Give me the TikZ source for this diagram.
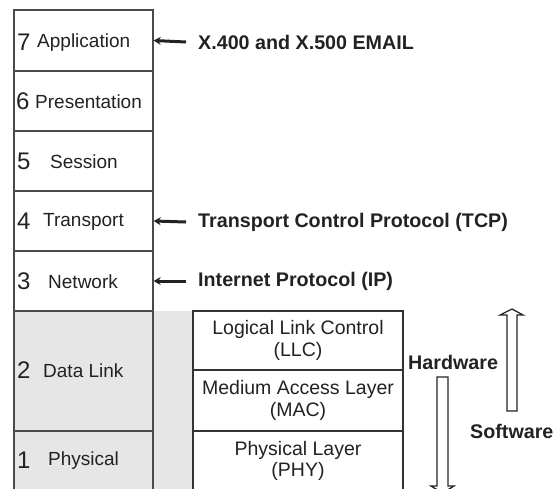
\documentclass[tikz,border=0pt]{standalone}
\usepackage{fontspec}
\setmainfont{Liberation Sans}
\usetikzlibrary{arrows.meta}
\definecolor{rule}{HTML}{4A4A4A}
\definecolor{shade}{HTML}{E6E6E6}
\definecolor{ink}{HTML}{222222}
\tikzset{
  layer/.style={draw=rule, line width=1.4pt, minimum width=139pt, inner sep=0pt},
  sublayer/.style={draw=black!80, line width=1.4pt, minimum width=210pt, inner sep=0pt,
    align=center, font=\fontsize{19.5}{21.5}\selectfont, text=ink},
  digit/.style={anchor=west, inner sep=0pt, font=\fontsize{24}{24}\selectfont, text=ink},
  word/.style={anchor=west, inner sep=0pt, font=\fontsize{19}{19}\selectfont, text=ink},
  proto/.style={anchor=west, inner sep=0pt, font=\bfseries\fontsize{19.7}{19.7}\selectfont, text=ink},
  pointer/.style={-{Stealth[length=7pt,width=8pt]}, line width=3pt, draw=ink},
  hollow/.style={draw=black!85, line width=1.3pt, fill=white, line join=miter}
}
\begin{document}
\begin{tikzpicture}[x=1pt,y=-1pt]
\useasboundingbox (0,0) rectangle (553,488);
\clip (0,0) rectangle (553,488);
\fill[white] (0,0) rectangle (553,488);

% shaded strip between the stack and the sublayers
\node[fill=shade, minimum width=40pt, minimum height=190pt, inner sep=0pt] (strip) at (173,406) {};

% the seven OSI layers
\node[layer, minimum height=61pt] (l7) at (83.5,40.5) {};
\node[layer, minimum height=60pt] (l6) at (83.5,101) {};
\node[layer, minimum height=60pt] (l5) at (83.5,161) {};
\node[layer, minimum height=60pt] (l4) at (83.5,221) {};
\node[layer, minimum height=60pt] (l3) at (83.5,281) {};
\node[layer, fill=shade, minimum height=120pt] (l2) at (83.5,371) {};
\node[layer, fill=shade, minimum height=60pt] (l1) at (83.5,461) {};

% layer numbers and names
\node[digit] (d7) at (17,42) {7};
\node[word] (w7) at (37,43) {Application};
\node[digit] (d6) at (16,101) {6};
\node[word] (w6) at (35,102) {Presentation};
\node[digit] (d5) at (17,161) {5};
\node[word] (w5) at (50,162) {Session};
\node[digit] (d4) at (17,221) {4};
\node[word] (w4) at (43,222) {Transport};
\node[digit] (d3) at (17,281) {3};
\node[word] (w3) at (48,282) {Network};
\node[digit] (d2) at (17,370) {2};
\node[word] (w2) at (43,371) {Data Link};
\node[digit] (d1) at (17,460) {1};
\node[word] (w1) at (48,461) {Physical};

% IEEE 802 sublayers
\node[sublayer, minimum height=59pt] (llc) at (298,340.5) {Logical Link Control\\(LLC)};
\node[sublayer, minimum height=61pt] (mac) at (298,400.5) {Medium Access Layer\\(MAC)};
\node[sublayer, minimum height=60pt] (phy) at (298,461) {Physical Layer\\(PHY)};

% protocols mapped onto layers
\node[proto] (p7) at (198,42) {X.400 and X.500 EMAIL};
\node[proto] (p4) at (198,222) {Transport Control Protocol (TCP)};
\node[proto] (p3) at (198,281) {Internet Protocol (IP)};
\draw[pointer] ([xshift=-12pt]p7.west) -- (l7.east);
\draw[pointer] ([xshift=-12pt]p4.west) -- (l4.east);
\draw[pointer] ([xshift=-12pt]p3.west) -- (l3.east);

% hardware / software direction
\node[proto] (hw) at (408,362) {Hardware};
\node[proto] (sw) at (470,431) {Software};
\draw[hollow] (507,411) -- (507,315) -- (500,315) -- (512,309) -- (523,315)
  -- (517,315) -- (517,411) -- cycle;
\draw[hollow] (437,377) -- (437,486) -- (431,486) -- (442.5,493) -- (454,486)
  -- (448,486) -- (448,377) -- cycle;
\end{tikzpicture}
\end{document}
